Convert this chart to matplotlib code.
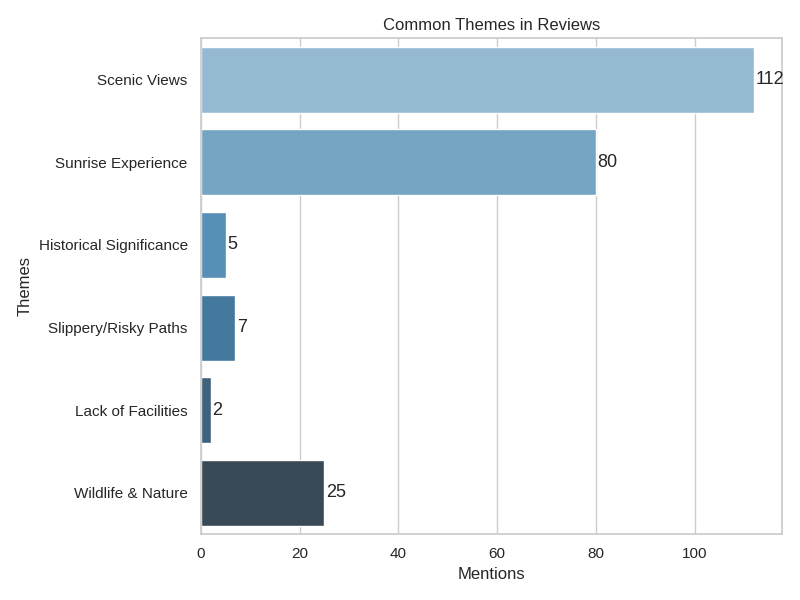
import matplotlib
matplotlib.use("Agg")
import matplotlib.pyplot as plt
import seaborn as sns

# data
themes = ["Scenic Views", "Sunrise Experience", "Historical Significance",
          "Slippery/Risky Paths", "Lack of Facilities", "Wildlife & Nature"]
mentions = [112, 80, 5, 7, 2, 25]

sns.set_theme(style="whitegrid")
plt.rcParams["font.family"] = ["Liberation Sans", "DejaVu Sans"]

fig, ax = plt.subplots(figsize=(8, 6))
sns.barplot(x=mentions, y=themes, hue=themes, palette="Blues_d",
            legend=False, ax=ax)

for container in ax.containers:
    ax.bar_label(container, padding=1, fontsize=13)

ax.set_title("Common Themes in Reviews", fontsize=12)
ax.set_xlabel("Mentions", fontsize=12)
ax.set_ylabel("Themes", fontsize=12)
ax.tick_params(labelsize=11)

plt.tight_layout()
plt.savefig("out.png", dpi=100)
